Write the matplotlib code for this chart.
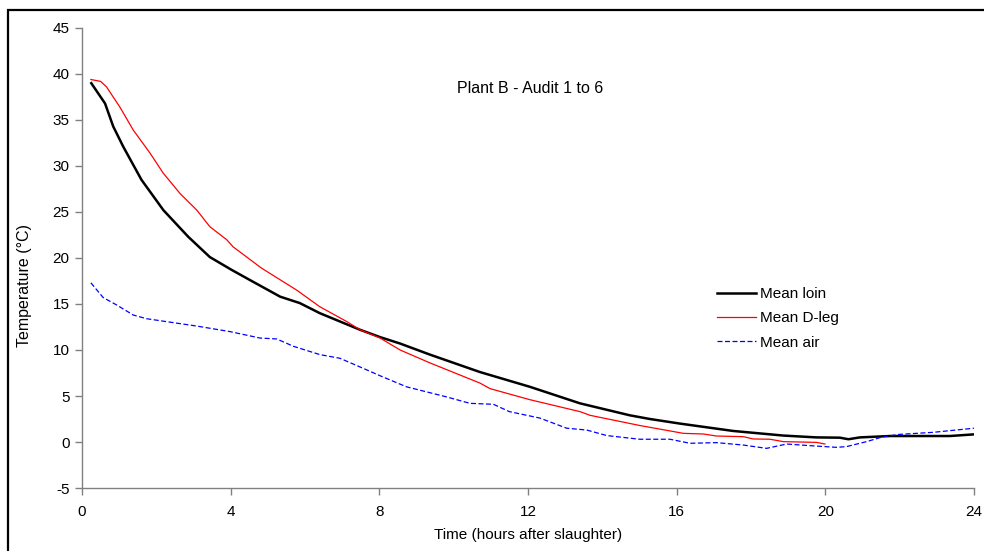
import matplotlib
matplotlib.use("Agg")
import matplotlib.pyplot as plt
from matplotlib.patches import Rectangle

plt.rcParams['font.family'] = ['Liberation Sans', 'DejaVu Sans']

title = "Plant B - Audit 1 to 6"
x_label = "Time (hours after slaughter)"
y_label = "Temperature (°C)"
x_ticks = [0, 4, 8, 12, 16, 20, 24]
y_ticks = [-5, 0, 5, 10, 15, 20, 25, 30, 35, 40, 45]

loin_t = [0.25, 0.62, 0.84, 1.11, 1.6, 2.19, 2.86, 3.44, 4.03, 4.52, 5.33, 5.86, 6.4, 7.48, 8.02, 8.56,
          9.36, 10.71, 12.05, 13.4, 14.74, 15.28, 16.09, 17.52, 18.87, 19.76, 20.39, 20.62, 20.93,
          21.74, 23.35, 24.0]
loin = [39.0, 36.8, 34.3, 32.1, 28.5, 25.2, 22.3, 20.1, 18.7, 17.6, 15.8, 15.1, 14.0, 12.2, 11.4, 10.7,
        9.5, 7.6, 6.0, 4.2, 2.9, 2.5, 2.0, 1.2, 0.7, 0.5, 0.47, 0.3, 0.5,
        0.65, 0.65, 0.83]

dleg_t = [0.24, 0.5, 0.66, 1.02, 1.38, 1.83, 2.19, 2.64, 3.09, 3.44, 3.89, 4.07, 4.83, 5.78, 6.4, 7.12,
          7.48, 8.02, 8.56, 9.36, 10.71, 10.98, 12.05, 13.4, 13.67, 15.0, 15.55, 16.18, 16.72, 17.07,
          17.79, 18.06, 18.51, 18.87, 19.76, 19.99]
dleg = [39.4, 39.2, 38.6, 36.4, 33.9, 31.4, 29.2, 27.0, 25.2, 23.4, 22.0, 21.2, 18.9, 16.5, 14.7, 13.1,
        12.2, 11.3, 10.0, 8.6, 6.4, 5.8, 4.6, 3.3, 2.9, 1.8, 1.4, 0.94, 0.87, 0.65,
        0.58, 0.33, 0.3, 0.04, -0.04, -0.22]

air_t = [0.24, 0.57, 0.93, 1.38, 1.74, 3.09, 3.98, 4.79, 5.24, 5.69, 6.4, 6.94, 7.57, 8.02, 8.73, 9.81,
         10.44, 11.07, 11.5, 12.32, 13.04, 13.58, 14.12, 15.0, 15.82, 16.36, 17.07, 17.79, 18.42, 18.96,
         19.59, 20.3, 20.57, 21.11, 21.56, 22.0, 22.9, 24.0]
air = [17.3, 15.7, 14.9, 13.8, 13.4, 12.6, 12.0, 11.3, 11.2, 10.4, 9.5, 9.1, 8.0, 7.2, 6.0, 4.9,
       4.2, 4.1, 3.3, 2.6, 1.5, 1.3, 0.7, 0.3, 0.3, -0.14, -0.07, -0.33, -0.69, -0.22,
       -0.4, -0.58, -0.5, 0.04, 0.58, 0.83, 1.05, 1.5]

W, H = 984, 551
fig = plt.figure(figsize=(W / 100, H / 100), dpi=100)
ax = fig.add_axes([82 / W, 1 - 488 / H, 892 / W, 460 / H])

ax.plot(loin_t, loin, color='black', lw=1.8, label='Mean loin', solid_joinstyle='round')
ax.plot(dleg_t, dleg, color='red', lw=0.9, label='Mean D-leg')
ax.plot(air_t, air, color='blue', lw=0.9, ls=(0, (4, 2)), label='Mean air')

ax.set_xlim(0, 24)
ax.set_ylim(-5, 45)
ax.set_xticks(x_ticks)
ax.set_yticks(y_ticks)
ax.set_xticklabels([str(v) for v in x_ticks])
ax.set_yticklabels([str(v) for v in y_ticks])

for s in ['top', 'right']:
    ax.spines[s].set_visible(False)
ax.spines['left'].set_color('#808080')
ax.spines['bottom'].set_color('#808080')
ax.spines['left'].set_linewidth(1.0)
ax.spines['bottom'].set_linewidth(1.0)
ax.tick_params(axis='both', direction='out', length=5, width=1.0, color='#808080',
               labelsize=11, labelcolor='black')
ax.tick_params(axis='x', pad=7)
ax.tick_params(axis='y', pad=4)

ax.set_xlabel(x_label, fontsize=11, labelpad=7)
ax.set_ylabel(y_label, fontsize=11.5)
ax.yaxis.set_label_coords(-0.056, 0.441)

ax.text(12.05, 38.4, title, ha='center', va='center', fontsize=11.5)

leg = ax.legend(loc='upper left', bbox_to_anchor=(0.705, 0.450), frameon=False, fontsize=11,
                handlelength=2.55, handletextpad=0.28, labelspacing=0.67, borderaxespad=0)

fig.patches.append(Rectangle((8 / W, -0.1), 1.2, 1 - 10 / H + 0.1, transform=fig.transFigure,
                             fill=False, edgecolor='black', lw=1.6, zorder=0))

fig.savefig('out.png', dpi=100)
